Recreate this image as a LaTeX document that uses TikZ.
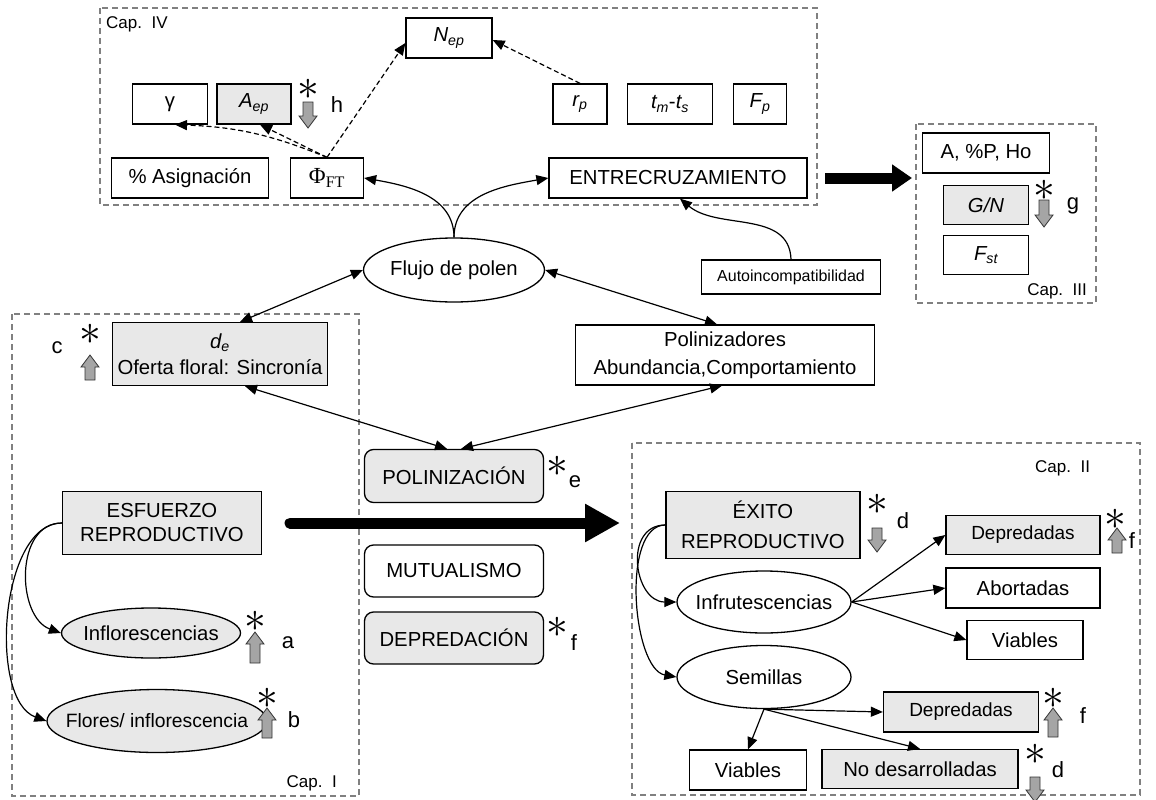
\documentclass[tikz,border=0pt]{standalone}
\usepackage{fontspec}
\setmainfont{Liberation Sans}
\newfontfamily\serifx{Liberation Serif}
\usetikzlibrary{shapes.geometric,arrows.meta,calc}
\definecolor{boxgray}{RGB}{232,232,232}
\definecolor{framegray}{RGB}{128,128,128}
\definecolor{blkgray}{RGB}{165,165,165}
\newcommand\fmain{\fontsize{20.3}{24}\selectfont}
\newcommand\fcap{\fontsize{17}{20}\selectfont}
\newcommand\fsmall{\fontsize{16}{19}\selectfont}
\newcommand\flet{\fontsize{22}{24}\selectfont}
\newcommand\fast{\fontsize{24}{24}\selectfont}
\newcommand\zw[1]{\makebox[0pt]{#1}}
\newcommand\astsym{\scalebox{1.75}{$\ast$}}
\newcommand\blkup[3]{\filldraw[blk] (#1,#2) -- ({#1+9},{#2+12}) -- ({#1+5},{#2+12}) -- ({#1+5},#3) -- ({#1-5},#3) -- ({#1-5},{#2+12}) -- ({#1-9},{#2+12}) -- cycle;}
\newcommand\blkdown[3]{\filldraw[blk] (#1,#3) -- ({#1+9},{#3-12}) -- ({#1+5},{#3-12}) -- ({#1+5},#2) -- ({#1-5},#2) -- ({#1-5},{#3-12}) -- ({#1-9},{#3-12}) -- cycle;}
\tikzset{
  box/.style={draw, line width=1.3pt, inner sep=0pt, font=\fmain, align=center},
  gbox/.style={box, fill=boxgray},
  rbox/.style={box, rounded corners=9pt},
  ell/.style={ellipse, draw, line width=1.3pt, inner sep=0pt, font=\fmain},
  frame/.style={draw=framegray, line width=1.5pt, dash pattern=on 6pt off 4pt},
  caplbl/.style={font=\fcap, inner sep=0pt},
  lett/.style={font=\flet, inner sep=0pt},
  astk/.style={font=\fast, inner sep=0pt},
  blk/.style={fill=blkgray, draw=black!80, line width=0.8pt},
  arr/.style={line width=1.2pt, -{Triangle[length=12pt,width=10pt]}},
  darr/.style={line width=1.2pt, {Triangle[length=12pt,width=10pt]}-{Triangle[length=12pt,width=10pt]}},
  dasharr/.style={arr, dash pattern=on 5pt off 3pt},
}
\begin{document}
\begin{tikzpicture}[x=1pt,y=-1pt]
\useasboundingbox (0,0) rectangle (1156,800);
% ---------- Cap. IV frame ----------
\draw[frame] (100,8) rectangle (817,205);
\node[caplbl, anchor=west] (cap4) at (106,24) {Cap.\ \ IV};
\node[box, minimum width=86, minimum height=40] (nep) at (449,38) {\itshape N\textsubscript{ep}};
\node[box, minimum width=75, minimum height=40] (gam) at (170,104) {γ};
\node[gbox, minimum width=74, minimum height=40] (aep) at (254,104) {\itshape A\textsubscript{ep}};
\node[astk] (asth) at (308,89) {\astsym};
\blkdown{308}{102}{128}
\node[lett] (lh) at (337,105) {h};
\node[box, minimum width=157, minimum height=40] (asig) at (190,178) {\% Asignación};
\node[box, minimum width=73, minimum height=40] (phi) at (327,178) {\serifx\fontsize{23}{24}\selectfont Φ\textsubscript{FT}};
\node[box, minimum width=54, minimum height=40] (rp) at (580,104) {\itshape r\textsubscript{p}};
\node[box, minimum width=85, minimum height=40] (tmts) at (670,104) {{\itshape t\textsubscript{m}}-{\itshape t\textsubscript{s}}};
\node[box, minimum width=53, minimum height=40] (fp) at (760,104) {\itshape F\textsubscript{p}};
\node[box, minimum width=258, minimum height=40] (ent) at (678,178) {ENTRECRUZAMIENTO};
% dashed arrows
\draw[dasharr] (phi.north) to[bend right=10] ($(gam.south)+(5,0)$);
\draw[dasharr] (phi.north) -- ($(aep.south)+(6,0)$);
\draw[dasharr] (phi.north) -- ($(nep.west)+(0,5)$);
\draw[dasharr] (rp.north) -- ($(nep.east)+(0,2)$);
% ---------- Cap. III frame ----------
\draw[frame] (916,124) rectangle (1096,303);
\node[box, minimum width=127, minimum height=40] (aph) at (986,153) {A, \%P, Ho};
\node[gbox, minimum width=85, minimum height=39] (gn) at (986,205) {\itshape G/N};
\node[box, minimum width=85, minimum height=39] (fst) at (986,255) {\itshape F\textsubscript{st}};
\node[astk] (astg) at (1044,190) {\astsym};
\blkdown{1044}{200}{227}
\node[lett] (lg) at (1073,206) {g};
\node[caplbl, anchor=east] (cap3) at (1087,291) {Cap.\ \ III};
\coordinate (ta1) at (825,178);
\coordinate (ta2) at (912,178);
\draw[line width=11pt, -{Triangle[length=20pt,width=26pt]}] (ta1) -- (ta2);
% ---------- middle ----------
\node[ell, minimum width=181, minimum height=64] (fl) at (454,270) {\zw{Flujo de polen}};
\node[box, font=\fsmall, minimum width=179, minimum height=34] (auto) at (791,277) {Autoincompatibilidad};
\node[box, minimum width=299, minimum height=60] (pol) at (725,355) {Polinizadores\\[4pt]Abundancia,Comportamiento};
\draw[arr] (fl.north) to[out=90,in=-10] (phi.east);
\draw[arr] (fl.north) to[out=90,in=190] (ent.west);
\draw[arr] (auto.north) to[out=92,in=-40] ($(ent.south)+(2,0)$);
% ---------- Cap. I frame ----------
\draw[frame] (12,314) rectangle (359,796);
\node[gbox, minimum width=215, minimum height=63] (de) at (220,354) {{\itshape d\textsubscript{e}}\\[2pt]Oferta floral: Sincronía};
\node[lett] (lc) at (57,348) {c};
\node[astk] (astc) at (90,334) {\astsym};
\blkup{90}{355}{380}
\node[gbox, minimum width=199, minimum height=63] (esf) at (162,523) {ESFUERZO\\REPRODUCTIVO};
\node[ell, fill=boxgray, minimum width=179, minimum height=50] (infl) at (151,633) {\zw{Inflorescencias}};
\node[astk] (asta) at (255,621) {\astsym};
\blkup{255}{632}{663}
\node[lett] (la) at (288,643) {a};
\node[ell, fill=boxgray, minimum width=220, minimum height=63] (flor) at (157,721) {\zw{\fontsize{19.3}{23}\selectfont Flores/ inflorescencia}};
\node[astk] (astb) at (267,698) {\astsym};
\blkup{267}{708}{738}
\node[lett] (lb) at (294,720) {b};
\node[caplbl, anchor=east] (cap1) at (337,783) {Cap.\ \ I};
\draw[arr] (esf.west) to[out=180,in=160,looseness=1.1] (infl.west);
\draw[arr] (esf.west) to[out=180,in=160,looseness=0.8] (flor.west);
% ---------- center boxes ----------
\node[rbox, fill=boxgray, minimum width=179, minimum height=53] (polin) at (454,476) {POLINIZACIÓN};
\node[astk] (aste) at (557,466) {\astsym};
\node[lett] (le) at (575,482) {e};
\node[rbox, minimum width=179, minimum height=52] (mut) at (454,571) {MUTUALISMO};
\node[rbox, fill=boxgray, minimum width=179, minimum height=52] (dep) at (454,638) {DEPREDACIÓN};
\node[astk] (astf) at (557,627) {\astsym};
\node[lett] (lf) at (574,643) {f};
\draw[darr] ($(de.north)+(20,0)$) -- (fl.west);
\draw[darr] (fl.east) -- ($(pol.north)+(-8,0)$);
\draw[darr] ($(de.south)+(25,0)$) -- ($(polin.north)+(-7,0)$);
\draw[darr] ($(pol.south)+(-3,0)$) -- ($(polin.north)+(7,0)$);
\coordinate (ba1) at (290,523);
\coordinate (ba2) at (620,523);
\draw[line width=11pt, line cap=round, -{Triangle[length=35pt,width=36pt]}] (ba1) -- (ba2);
% ---------- Cap. II frame ----------
\draw[frame] (632,443) rectangle (1140,795);
\node[caplbl, anchor=west] (cap2) at (1035,468) {Cap.\ \ II};
\node[gbox, minimum width=194, minimum height=67] (exi) at (763,525) {ÉXITO\\[6pt]REPRODUCTIVO};
\node[astk] (astd) at (877,504) {\astsym};
\blkdown{877}{528}{552}
\node[lett] (ld) at (903,521) {d};
\node[gbox, minimum width=154, minimum height=39] (dep1) at (1023,535) {\fontsize{19}{22}\selectfont Depredadas};
\node[astk] (astf1) at (1115,519) {\astsym};
\blkup{1117}{528}{553}
\node[lett] (lf1) at (1132,541) {f};
\node[box, minimum width=154, minimum height=40] (abo) at (1023,588) {Abortadas};
\node[box, minimum width=116, minimum height=39] (via1) at (1025,640) {Viables};
\node[ell, minimum width=174, minimum height=62] (infr) at (764,602) {\zw{Infrutescencias}};
\node[ell, minimum width=174, minimum height=63] (sem) at (764,677) {\zw{Semillas}};
\node[gbox, minimum width=155, minimum height=40] (dep2) at (961,712) {\fontsize{19}{22}\selectfont Depredadas};
\node[astk] (astf2) at (1053,698) {\astsym};
\blkup{1053}{708}{737}
\node[lett] (lf2) at (1083,716) {f};
\node[box, minimum width=117, minimum height=40] (via2) at (748,770) {Viables};
\node[gbox, minimum width=196, minimum height=39] (nod) at (920,769) {No desarrolladas};
\node[astk] (astd2) at (1035,754) {\astsym};
\blkdown{1035}{777}{802}
\node[lett] (ld2) at (1058,770) {d};
\draw[arr] (exi.west) to[out=180,in=180,looseness=1.4] (infr.west);
\draw[arr] (exi.west) to[out=180,in=170,looseness=0.75] (sem.west);
\draw[arr] (infr.east) -- (dep1.west);
\draw[arr] (infr.east) -- (abo.west);
\draw[arr] (infr.east) -- (via1.west);
\draw[arr] (sem.south) -- (dep2.west);
\draw[arr] (sem.south) -- (via2.north);
\draw[arr] (sem.south) -- (nod.north);
\end{tikzpicture}
\end{document}
